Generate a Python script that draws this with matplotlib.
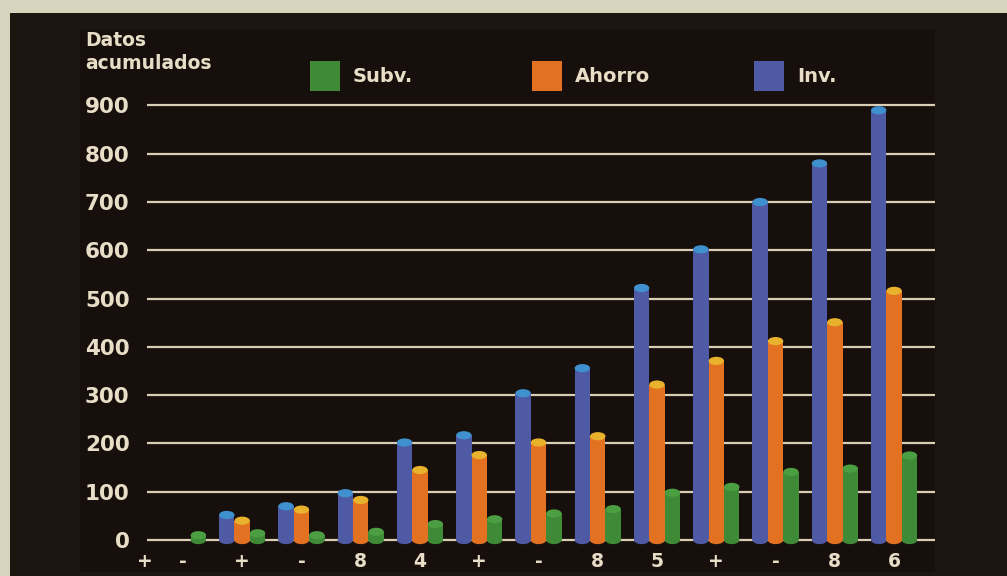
import matplotlib
matplotlib.use("Agg")
import matplotlib.pyplot as plt
from matplotlib.patches import Ellipse, Rectangle
import numpy as np

# datos acumulados por periodo
etiquetas = ["+", "-", "+", "-", "8", "4", "+", "-", "8", "5", "+", "-", "8", "6"]
inv = [0, 52, 70, 97, 202, 217, 304, 356, 522, 602, 700, 780, 890]
ahorro = [0, 40, 63, 83, 145, 176, 202, 215, 322, 371, 412, 451, 516]
subv = [10, 14, 10, 17, 33, 43, 55, 64, 98, 110, 141, 148, 175]

series = ["Inv.", "Ahorro", "Subv."]
colores = ["#4f5aa4", "#e27222", "#3e8a36"]       # cuerpo del cilindro
tapas = ["#3f90cf", "#e9b22c", "#4c9e42"]         # tapa de arriba

fondo = "#1d1510"
fondo_int = "#170f0b"
texto = "#e8dec8"
linea = "#d9cdb6"

plt.rcParams["font.family"] = "DejaVu Sans"
plt.rcParams["font.weight"] = "bold"

fig = plt.figure(figsize=(10.07, 5.76), dpi=100)
fig.patch.set_facecolor("#d7d4be")

# panel oscuro y zona interior
fig.add_artist(Rectangle((10/1007, 0), 1, (576-13)/576, transform=fig.transFigure,
                         facecolor=fondo, edgecolor="none", zorder=0))
fig.add_artist(Rectangle((80/1007, 4/576), (935-80)/1007, (546-4)/576, transform=fig.transFigure,
                         facecolor=fondo_int, edgecolor="none", zorder=0))

ax = fig.add_axes([145/1007, 26.3/576, (935-145)/1007, (549.7-95.8)/576])
ax.set_facecolor("none")
for s in ax.spines.values():
    s.set_visible(False)

x = np.arange(len(inv))
ancho = 0.26
ax.set_xlim(-0.606, 12.69)
ax.set_ylim(-20, 920)

# lineas de la cuadricula
yt = np.arange(0, 1000, 100)
ax.hlines(yt, -0.606, 12.69, colors=linea, linewidth=1.6, zorder=1)

alto_tapa = 17  # alto de la elipse en unidades de datos
datos = [inv, ahorro, subv]
for i, vals in enumerate(datos):
    xs = x + (i - 1) * ancho
    for xi, v in zip(xs, vals):
        if v <= 0:
            continue
        ax.bar(xi, v, width=ancho, color=colores[i], zorder=3, linewidth=0)
        ax.add_patch(Ellipse((xi, 0), ancho, alto_tapa, facecolor=colores[i],
                             edgecolor="none", zorder=3))
        ax.add_patch(Ellipse((xi, v), ancho, alto_tapa, facecolor=tapas[i],
                             edgecolor="none", zorder=4))

ax.set_yticks(yt)
ax.set_yticklabels([str(v) for v in yt], color=texto, fontsize=15.5, fontweight="bold")
ax.set_xticks([-0.64] + list(x))
ax.set_xticklabels(etiquetas, color=texto, fontsize=13.5, fontweight="bold")
ax.tick_params(length=0)
ax.tick_params(axis="y", pad=11)
ax.tick_params(axis="x", pad=2)

fig.text(85/1007, 1 - 31/576, "Datos\nacumulados", color=texto, fontsize=13.5,
         fontweight="bold", ha="left", va="top", linespacing=1.25)

# leyenda hecha a mano
leyenda = [("Subv.", colores[2], 310), ("Ahorro", colores[1], 532), ("Inv.", colores[0], 754)]
for nombre, c, px in leyenda:
    fig.add_artist(Rectangle((px/1007, 1 - 91/576), 30/1007, 30/576, transform=fig.transFigure,
                             facecolor=c, edgecolor="none"))
    fig.text((px + 43)/1007, 1 - 76/576, nombre, color=texto, fontsize=14,
             fontweight="bold", ha="left", va="center")

fig.savefig("out.png", dpi=100, facecolor=fig.get_facecolor())
